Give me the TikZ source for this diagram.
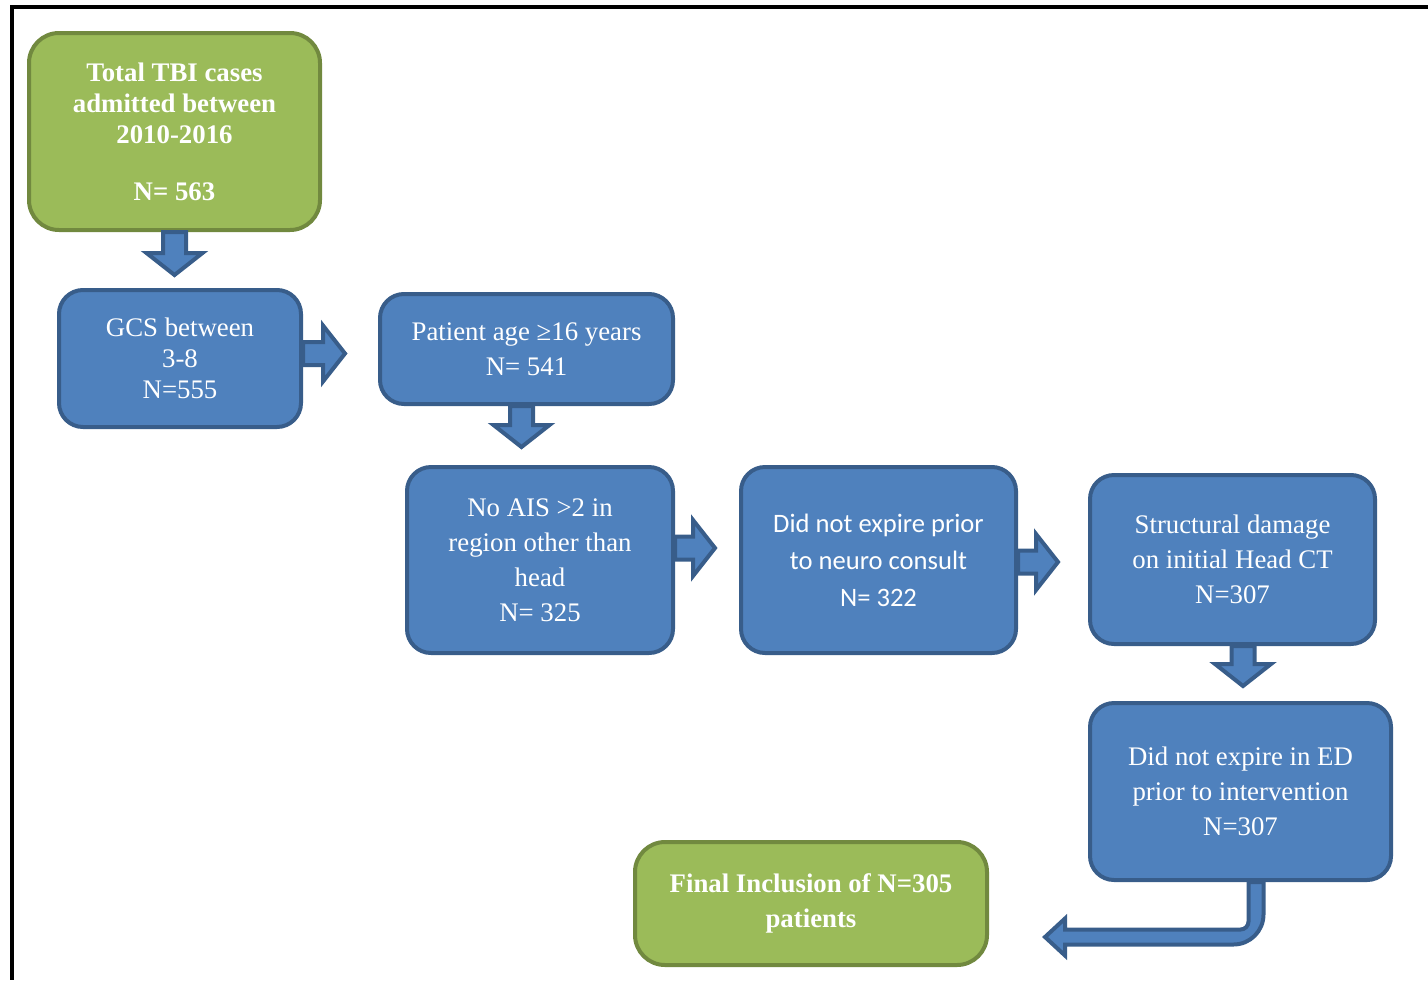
\documentclass[tikz,border=0pt]{standalone}
\usepackage{fontspec}
\setmainfont{Liberation Serif}
\newfontfamily\calibri{Carlito}
\usepackage{tikz}
\usetikzlibrary{calc}
\definecolor{boxblue}{HTML}{4F81BD}
\definecolor{blueline}{HTML}{385D8A}
\definecolor{boxgreen}{HTML}{9BBB59}
\definecolor{greenline}{HTML}{71893F}
\tikzstyle{greenbox} = [rectangle, rounded corners=15pt, draw=greenline, fill=boxgreen, line width=2pt, text=white, align=center, font=\fontsize{13.4}{15.5}\selectfont\bfseries]
\tikzstyle{bluebox} = [rectangle, rounded corners=12pt, draw=blueline, fill=boxblue, line width=2pt, text=white, align=center, font=\fontsize{13.4}{17.5}\selectfont]
\tikzstyle{arrowshape} = [draw=blueline, fill=boxblue, line width=2pt, line join=miter]
\newcommand{\blockarrow}[2]{%
  \coordinate (ba) at #1;
  \coordinate (bb) at #2;
  \coordinate (bc) at ($(bb)!11pt!(ba)$);
  \draw [arrowshape] ($(ba)!5.75pt!90:(bb)$) -- ($(bc)!5.75pt!-90:(ba)$) -- ($(bc)!14pt!-90:(ba)$) -- (bb)
    -- ($(bc)!14pt!90:(ba)$) -- ($(bc)!5.75pt!90:(ba)$) -- ($(ba)!5.75pt!-90:(bb)$) -- cycle;}

\begin{document}
\begin{tikzpicture}[x=0.5pt, y=-0.5pt]
\useasboundingbox (0,0) rectangle (1428,980);
\draw [line width=2pt] (1428,7) -- (12,7) -- (12,980);

\node (total) [greenbox, minimum width=145.5pt, minimum height=98.5pt] at (174.5,131.5) {Total TBI cases\\admitted between\\2010-2016\\[13pt]N= 563};
\node (gcs) [bluebox, minimum width=121pt, minimum height=68.5pt, font=\fontsize{13.4}{15.5}\selectfont] at (180,358.5) {GCS between\\3-8\\N=555};
\node (age) [bluebox, minimum width=146.5pt, minimum height=55pt] at (526.5,349) {Patient age ≥16 years\\N= 541};
\node (ais) [bluebox, minimum width=133pt, minimum height=93pt] at (540,560) {No AIS >2 in\\region other than\\head\\N= 325};
\node (consult) [bluebox, minimum width=137.5pt, minimum height=93pt, font=\calibri\fontsize{13.3}{18.5}\selectfont] at (878.5,560) {Did not expire prior\\to neuro consult\\N= 322};
\node (ct) [bluebox, minimum width=142.5pt, minimum height=84.5pt] at (1232.5,559.5) {Structural damage\\on initial Head CT\\N=307};
\node (ed) [bluebox, minimum width=150.5pt, minimum height=88.5pt] at (1240.5,791.5) {Did not expire in ED\\prior to intervention\\N=307};
\node (final) [greenbox, minimum width=176pt, minimum height=61.5pt, font=\fontsize{13.4}{17.5}\selectfont\bfseries] at (811,903.5) {Final Inclusion of N=305\\patients};

\blockarrow{(total.south)}{($(total.south |- gcs.north)+(0,-13)$)}
\blockarrow{($(gcs.east)+(0,-5)$)}{($(gcs.east -| age.west)+(-33,-5)$)}
\blockarrow{($(age.south)+(-5,0)$)}{($(age.south |- ais.north)+(-5,-18)$)}
\blockarrow{($(ais.east)+(0,-12)$)}{($(ais.east -| consult.west)+(-24,-12)$)}
\blockarrow{($(consult.east)+(0,2)$)}{($(consult.east -| ct.west)+(-30,2)$)}
\blockarrow{($(ct.south)+(10.5,0)$)}{($(ct.south |- ed.north)+(10.5,-15)$)}

\coordinate (v) at ($(ed.south)+(15.5,0)$);
\coordinate (tip) at ($(final.east)+(56,33.5)$);
\coordinate (bend) at (v |- tip);
\draw [arrowshape] ($(v)+(7.5,0)$) -- ($(bend)+(7.5,-22.5)$) arc [start angle=0, end angle=-90, radius=15pt]
  -- ($(tip)+(20,7.5)$) -- ($(tip)+(20,18.5)$) -- (tip) -- ($(tip)+(20,-18.5)$) -- ($(tip)+(20,-7.5)$)
  -- ($(bend)+(-15.5,-7.5)$) arc [start angle=-90, end angle=0, radius=4pt] -- ($(v)+(-7.5,0)$) -- cycle;
\end{tikzpicture}
\end{document}
